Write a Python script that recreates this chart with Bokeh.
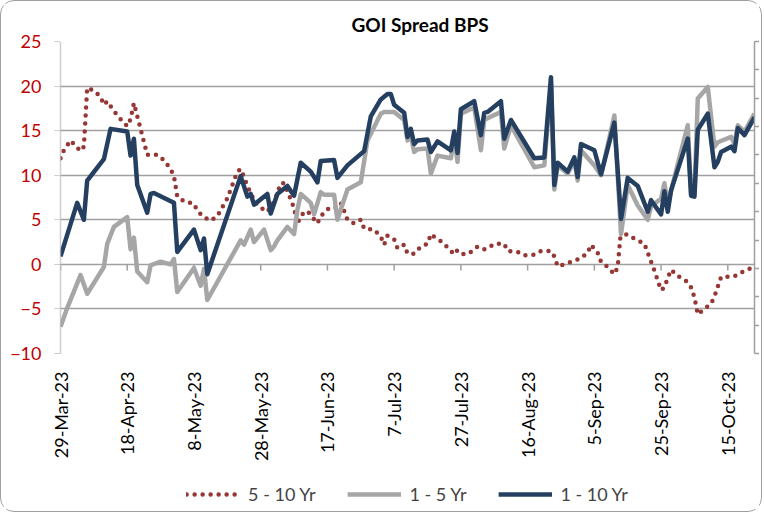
import pandas as pd
from math import pi
from bokeh.plotting import figure
from bokeh.layouts import column
from bokeh.models import (Range1d, LinearAxis, FixedTicker, Legend, LegendItem)
from bokeh.embed import file_html
from bokeh.resources import INLINE

START = "2023-03-29"
END = "2023-10-23"

tick_dates = ["2023-03-29", "2023-04-18", "2023-05-08", "2023-05-28", "2023-06-17",
              "2023-07-07", "2023-07-27", "2023-08-16", "2023-09-05", "2023-09-25",
              "2023-10-15"]
tick_labels = ["29-Mar-23", "18-Apr-23", "8-May-23", "28-May-23", "17-Jun-23",
               "7-Jul-23", "27-Jul-23", "16-Aug-23", "5-Sep-23", "25-Sep-23",
               "15-Oct-23"]
y_ticks = [-10, -5, 0, 5, 10, 15, 20, 25]

# 1 - 10 Yr spread (bps)
dates_1_10 = ["2023-03-29", "2023-04-03", "2023-04-05", "2023-04-06", "2023-04-11", "2023-04-13",
              "2023-04-18", "2023-04-19", "2023-04-20", "2023-04-21", "2023-04-24", "2023-04-25",
              "2023-04-26", "2023-05-02", "2023-05-03", "2023-05-08", "2023-05-10", "2023-05-11",
              "2023-05-12", "2023-05-22", "2023-05-24", "2023-05-25", "2023-05-26", "2023-05-30",
              "2023-05-31", "2023-06-02", "2023-06-05", "2023-06-07", "2023-06-09", "2023-06-12",
              "2023-06-14", "2023-06-15", "2023-06-19", "2023-06-20", "2023-06-23", "2023-06-28",
              "2023-06-30", "2023-07-03", "2023-07-05", "2023-07-06", "2023-07-07", "2023-07-10",
              "2023-07-11", "2023-07-12", "2023-07-13", "2023-07-14", "2023-07-17", "2023-07-18",
              "2023-07-20", "2023-07-24", "2023-07-25", "2023-07-26", "2023-07-27", "2023-07-31",
              "2023-08-02", "2023-08-03", "2023-08-04", "2023-08-08", "2023-08-09", "2023-08-11",
              "2023-08-18", "2023-08-21", "2023-08-23", "2023-08-24", "2023-08-25", "2023-08-28",
              "2023-08-30", "2023-08-31", "2023-09-01", "2023-09-05", "2023-09-07", "2023-09-11",
              "2023-09-13", "2023-09-15", "2023-09-18", "2023-09-21", "2023-09-22", "2023-09-25",
              "2023-09-26", "2023-09-27", "2023-09-28", "2023-10-03", "2023-10-04", "2023-10-05",
              "2023-10-06", "2023-10-09", "2023-10-11", "2023-10-12", "2023-10-13", "2023-10-16",
              "2023-10-17", "2023-10-18", "2023-10-20", "2023-10-23"]
vals_1_10 = [0.9, 6.9, 5.0, 9.4, 11.8, 15.2,
             14.9, 12.2, 14.1, 8.9, 5.8, 7.9,
             8.0, 6.9, 1.4, 3.9, 1.6, 2.9,
             -1.1, 9.9, 7.6, 7.9, 6.7, 7.9,
             5.7, 7.9, 8.8, 7.7, 11.4, 10.4,
             9.2, 11.6, 11.7, 9.7, 11.1, 12.7,
             16.6, 18.5, 19.1, 19.1, 17.9, 17.0,
             14.3, 15.2, 13.5, 13.9, 14.0, 12.6,
             13.8, 12.8, 14.9, 12.5, 17.4, 18.3,
             14.5, 17.0, 17.1, 18.3, 14.1, 16.2,
             11.9, 12.0, 21.0, 8.9, 11.4, 10.4,
             12.0, 9.8, 13.5, 12.8, 10.1, 15.9,
             5.1, 9.7, 8.8, 5.9, 7.2, 5.6,
             8.2, 5.9, 8.3, 14.1, 7.7, 7.6,
             15.1, 16.9, 10.9, 11.5, 12.6, 13.2,
             12.7, 15.3, 14.5, 16.5]

# 1 - 5 Yr spread (bps)
dates_1_5 = ["2023-03-29", "2023-03-31", "2023-04-04", "2023-04-06", "2023-04-11", "2023-04-12",
             "2023-04-14", "2023-04-18", "2023-04-19", "2023-04-20", "2023-04-21", "2023-04-24",
             "2023-04-25", "2023-04-28", "2023-05-01", "2023-05-02", "2023-05-03", "2023-05-08",
             "2023-05-10", "2023-05-11", "2023-05-12", "2023-05-22", "2023-05-23", "2023-05-25",
             "2023-05-26", "2023-05-29", "2023-05-31", "2023-06-01", "2023-06-02", "2023-06-05",
             "2023-06-07", "2023-06-08", "2023-06-09", "2023-06-12", "2023-06-13", "2023-06-15",
             "2023-06-16", "2023-06-19", "2023-06-20", "2023-06-23", "2023-06-27", "2023-06-29",
             "2023-07-03", "2023-07-04", "2023-07-07", "2023-07-10", "2023-07-11", "2023-07-12",
             "2023-07-13", "2023-07-14", "2023-07-17", "2023-07-18", "2023-07-20", "2023-07-24",
             "2023-07-25", "2023-07-26", "2023-07-27", "2023-07-31", "2023-08-02", "2023-08-03",
             "2023-08-04", "2023-08-08", "2023-08-09", "2023-08-11", "2023-08-18", "2023-08-21",
             "2023-08-23", "2023-08-24", "2023-08-25", "2023-08-28", "2023-08-30", "2023-08-31",
             "2023-09-01", "2023-09-05", "2023-09-07", "2023-09-11", "2023-09-13", "2023-09-15",
             "2023-09-18", "2023-09-21", "2023-09-22", "2023-09-25", "2023-09-26", "2023-09-27",
             "2023-09-28", "2023-10-03", "2023-10-04", "2023-10-05", "2023-10-06", "2023-10-09",
             "2023-10-11", "2023-10-12", "2023-10-16", "2023-10-17", "2023-10-18", "2023-10-20",
             "2023-10-23"]
vals_1_5 = [-7.0, -4.9, -1.2, -3.3, -0.3, 2.3,
            4.2, 5.3, 1.7, 3.0, -0.8, -2.0,
            -0.1, 0.3, 0.0, 0.6, -3.1, -0.4,
            -2.4, -0.5, -4.0, 2.7, 2.2, 3.9,
            2.5, 3.9, 1.6, 2.0, 2.7, 4.2,
            3.4, 6.1, 7.9, 6.9, 5.6, 8.1,
            7.8, 7.8, 5.0, 8.4, 9.2, 13.9,
            16.9, 17.1, 17.1, 16.2, 13.9, 14.4,
            12.6, 12.9, 13.0, 10.2, 12.2, 11.9,
            14.3, 11.5, 16.9, 17.6, 12.8, 16.2,
            16.4, 17.1, 13.0, 15.6, 10.9, 11.1,
            20.3, 8.4, 11.1, 10.2, 11.6, 9.4,
            12.8, 11.1, 10.0, 16.7, 3.4, 8.9,
            6.6, 5.0, 6.5, 7.4, 9.1, 6.8,
            8.3, 15.6, 7.9, 7.9, 18.6, 19.9,
            13.2, 13.7, 14.3, 13.5, 15.6, 14.9,
            16.9]

# 5 - 10 Yr spread (bps)
dates_5_10 = ["2023-03-29", "2023-03-30", "2023-04-01", "2023-04-02", "2023-04-04", "2023-04-05",
              "2023-04-06", "2023-04-08", "2023-04-10", "2023-04-11", "2023-04-12", "2023-04-14",
              "2023-04-16", "2023-04-18", "2023-04-19", "2023-04-20", "2023-04-24", "2023-04-27",
              "2023-04-29", "2023-05-01", "2023-05-02", "2023-05-03", "2023-05-05", "2023-05-08",
              "2023-05-09", "2023-05-11", "2023-05-13", "2023-05-15", "2023-05-18", "2023-05-19",
              "2023-05-20", "2023-05-21", "2023-05-22", "2023-05-23", "2023-05-24", "2023-05-26",
              "2023-05-27", "2023-05-29", "2023-05-30", "2023-06-01", "2023-06-02", "2023-06-03",
              "2023-06-04", "2023-06-05", "2023-06-06", "2023-06-07", "2023-06-08", "2023-06-09",
              "2023-06-11", "2023-06-14", "2023-06-15", "2023-06-17", "2023-06-19", "2023-06-21",
              "2023-06-22", "2023-06-23", "2023-06-25", "2023-06-27", "2023-06-28", "2023-07-01",
              "2023-07-03", "2023-07-04", "2023-07-05", "2023-07-07", "2023-07-08", "2023-07-10",
              "2023-07-11", "2023-07-13", "2023-07-15", "2023-07-17", "2023-07-18", "2023-07-19",
              "2023-07-21", "2023-07-23", "2023-07-25", "2023-07-26", "2023-07-28", "2023-07-30",
              "2023-08-01", "2023-08-03", "2023-08-04", "2023-08-06", "2023-08-09", "2023-08-10",
              "2023-08-13", "2023-08-15", "2023-08-18", "2023-08-20", "2023-08-23", "2023-08-24",
              "2023-08-25", "2023-08-27", "2023-08-30", "2023-09-01", "2023-09-03", "2023-09-04",
              "2023-09-06", "2023-09-07", "2023-09-09", "2023-09-11", "2023-09-12", "2023-09-13",
              "2023-09-15", "2023-09-17", "2023-09-20", "2023-09-21", "2023-09-22", "2023-09-23",
              "2023-09-24", "2023-09-25", "2023-09-26", "2023-09-27", "2023-09-28", "2023-09-30",
              "2023-10-03", "2023-10-04", "2023-10-05", "2023-10-06", "2023-10-08", "2023-10-10",
              "2023-10-11", "2023-10-12", "2023-10-13", "2023-10-16", "2023-10-18", "2023-10-20",
              "2023-10-23"]
vals_5_10 = [11.9, 12.8, 13.9, 13.5, 12.7, 13.2,
             19.8, 19.5, 18.8, 17.9, 18.3, 17.2,
             16.3, 15.5, 16.3, 18.1, 12.3, 12.3,
             11.7, 10.7, 9.9, 7.6, 7.1, 6.8,
             6.0, 5.3, 4.9, 5.4, 7.4, 8.4,
             9.4, 10.4, 10.7, 9.8, 8.8, 7.2,
             6.7, 6.1, 5.9, 7.0, 8.0, 9.1,
             9.1, 8.2, 7.3, 6.3, 4.5, 5.5,
             6.0, 4.6, 5.4, 6.2, 6.2, 6.9,
             6.0, 5.0, 4.6, 5.0, 4.0, 3.9,
             3.1, 2.2, 3.2, 2.8, 1.8, 2.2,
             1.2, 1.2, 2.0, 2.3, 3.4, 3.1,
             2.6, 1.9, 1.1, 1.6, 1.1, 1.4,
             2.0, 1.7, 1.8, 2.3, 2.3, 1.5,
             1.4, 1.0, 1.1, 1.5, 1.5, 0.9,
             -0.2, 0.0, 0.4, 0.7, 1.3, 2.2,
             1.3, 0.3, -0.3, -1.1, -0.3, 3.9,
             3.2, 2.9, 2.3, 1.3, 0.3, -0.7,
             -1.8, -2.9, -2.6, -1.5, -0.6, -1.3,
             -2.0, -2.6, -3.7, -5.6, -5.0, -4.4,
             -3.6, -2.5, -1.4, -1.4, -1.2, -0.7,
             -0.3]

series_names = ["5 - 10 Yr", "1 - 5 Yr", "1 - 10 Yr"]

start = pd.Timestamp(START)


def to_days(ds):
    return [(pd.Timestamp(d) - start).days for d in ds]


tick_days = to_days(tick_dates)
end_day = to_days([END])[0]

RED = "#953735"
GREY = "#A6A6A6"
NAVY = "#243F60"
GRID = "#A0A0A0"
FONT = "Lato"

p = figure(width=756, height=468, output_backend="svg", toolbar_location=None,
           x_range=Range1d(0, end_day), y_range=Range1d(-10, 25),
           min_border_left=57, min_border_right=5, min_border_top=38,
           min_border_bottom=118, background_fill_color="white",
           border_fill_color="white", outline_line_color=None)

p.title.text = "GOI Spread BPS"
p.title.align = "left"
p.title.offset = 291
p.title.text_font = FONT
p.title.text_font_size = "19px"
p.title.text_font_style = "bold"
p.title.text_color = "black"
p.title.standoff = 12

# grid
p.xgrid.visible = False
p.ygrid.ticker = FixedTicker(ticks=y_ticks)
p.ygrid.grid_line_color = GRID
p.ygrid.grid_line_width = 1.5

# left axis
ya = p.yaxis[0]
ya.ticker = FixedTicker(ticks=y_ticks)
ya.axis_line_color = GRID
ya.axis_line_width = 1.5
ya.axis_line_dash = "1 1"
ya.major_tick_line_color = GRID
ya.major_tick_line_dash = "1 1"
ya.major_tick_out = 6
ya.major_tick_in = 0
ya.minor_tick_line_color = None
ya.major_label_standoff = 13
ya.major_label_text_font = FONT
ya.major_label_text_font_size = "18px"
ya.major_label_text_color = "#C00000"

# bottom axis (labels only; the axis crosses at 0)
xa = p.xaxis[0]
xa.ticker = FixedTicker(ticks=tick_days)
xa.major_label_overrides = {d: lab for d, lab in zip(tick_days, tick_labels)}
xa.major_label_orientation = pi / 2
xa.axis_line_color = None
xa.major_tick_line_color = None
xa.minor_tick_line_color = None
xa.major_label_standoff = 12
xa.major_label_text_font = FONT
xa.major_label_text_font_size = "18px"
xa.major_label_text_color = "black"

# secondary (unlabelled) right axis
p.extra_y_ranges = {"sec": Range1d(0, 11)}
ra = LinearAxis(y_range_name="sec", ticker=FixedTicker(ticks=list(range(12))))
ra.axis_line_color = GRID
ra.axis_line_width = 1.5
ra.major_tick_line_color = GRID
ra.major_tick_line_width = 1.5
ra.major_tick_out = 5
ra.major_tick_in = 0
ra.minor_tick_line_color = None
ra.major_label_text_color = None
ra.major_label_text_font_size = "1px"
ra.major_label_standoff = 0
p.add_layout(ra, "right")

# tick marks on the zero line
p.segment(x0=tick_days, y0=[0] * len(tick_days), x1=tick_days, y1=[-0.7] * len(tick_days),
          line_color=GRID, line_width=1.5)

styles = [dict(line_color=RED, line_width=4.5, line_dash="0 8", line_cap="round",
               line_join="round"),
          dict(line_color=GREY, line_width=4.5, line_join="round"),
          dict(line_color=NAVY, line_width=4.5, line_join="round")]

all_dates = [dates_5_10, dates_1_5, dates_1_10]
all_vals = [vals_5_10, vals_1_5, vals_1_10]

for ds, vs, st in zip(all_dates, all_vals, styles):
    p.line(to_days(ds), vs, **st)

# legend strip below the chart (series drawn out of view, only the legend shows)
lg = figure(width=756, height=38, output_backend="svg", toolbar_location=None,
            x_range=Range1d(0, end_day), y_range=Range1d(100, 101),
            x_axis_location=None, y_axis_location=None,
            min_border_left=49, min_border_right=0, min_border_top=8,
            min_border_bottom=0, outline_line_color=None,
            background_fill_color="white", border_fill_color="white")
lg.grid.visible = False
proxies = [lg.line(to_days(ds), vs, **st) for ds, vs, st in zip(all_dates, all_vals, styles)]
legend = Legend(items=[LegendItem(label=n, renderers=[r]) for n, r in zip(series_names, proxies)],
                orientation="horizontal", location="center",
                border_line_color=None, background_fill_alpha=0,
                label_text_font=FONT, label_text_font_size="18px",
                glyph_width=54, glyph_height=20, label_height=20,
                label_standoff=8, spacing=32, padding=2, margin=0)
lg.add_layout(legend, "center")

layout = column(p, lg, spacing=0)
layout.styles = {"border": "1.5px solid #A0A0A0", "border-radius": "14px",
                 "padding": "2px"}

open("out.html", "w").write(file_html(layout, INLINE))
